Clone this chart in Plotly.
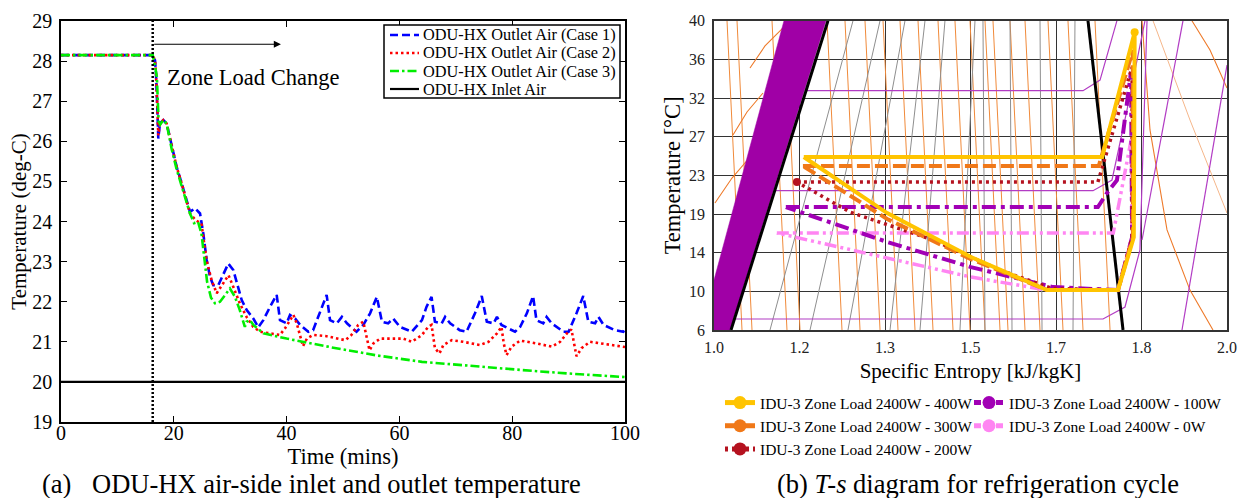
import numpy as np
import plotly.graph_objects as go

W, H = 1247, 498
SERIF = "Liberation Serif"

# ---------------- (a) ODU-HX air-side temperatures ----------------
LOAD_CHANGE_TIME = 16.26   # min
INLET_AIR_T = 20.0         # deg-C

CASE1 = [(0, 28.15), (16.26, 28.15), (16.67, 28.02), (16.84, 27.70), (17.07, 26.86), (17.25, 26.07),
         (17.55, 26.45), (18.14, 26.53), (18.74, 26.44), (19.63, 25.86), (20.51, 25.36), (21.40, 24.95),
         (22.29, 24.53), (22.87, 24.24), (23.76, 24.33), (24.65, 24.20), (25.23, 23.70), (25.83, 23.04),
         (26.42, 22.62), (27.00, 22.41), (27.89, 22.41), (28.78, 22.70), (29.66, 22.95), (30.55, 22.79),
         (31.44, 22.37), (32.04, 22.04), (32.93, 21.79), (34.10, 21.58), (34.98, 21.36), (35.87, 21.54),
         (37.06, 21.87), (38.24, 22.17), (38.83, 21.54), (40.0, 21.46), (40.6, 21.67), (41.5, 21.58),
         (42.4, 21.42), (43.85, 21.25), (44.7, 21.29), (45.9, 21.71), (47.1, 22.17), (47.7, 21.54),
         (48.9, 21.46), (49.8, 21.62), (50.7, 21.46), (52.4, 21.25), (53.6, 21.42), (54.8, 21.71),
         (56.0, 22.12), (56.9, 21.50), (58.0, 21.46), (58.9, 21.58), (60.1, 21.37), (62.2, 21.25),
         (64.0, 21.54), (64.8, 21.87), (65.7, 22.12), (66.3, 21.50), (67.5, 21.46), (68.1, 21.62),
         (69.0, 21.46), (70.7, 21.29), (71.9, 21.25), (73.4, 21.71), (74.6, 22.14), (75.5, 21.50),
         (76.7, 21.46), (77.3, 21.62), (78.1, 21.42), (80.5, 21.25), (81.4, 21.37), (82.6, 21.71),
         (83.7, 22.14), (84.3, 21.54), (85.5, 21.46), (86.1, 21.62), (87.0, 21.46), (89.1, 21.25),
         (90.0, 21.25), (91.4, 21.71), (92.6, 22.14), (93.5, 21.50), (94.7, 21.46), (95.3, 21.62),
         (96.2, 21.42), (98.2, 21.29), (99.7, 21.25), (100, 21.33)]

CASE2 = [(0, 28.15), (16.26, 28.15), (16.67, 28.02), (16.84, 27.70), (17.07, 26.90), (17.25, 26.15),
         (17.55, 26.45), (18.14, 26.53), (18.74, 26.44), (19.63, 25.86), (20.51, 25.36), (21.40, 24.95),
         (22.29, 24.53), (22.87, 24.20), (23.9, 24.03), (24.9, 23.95), (25.8, 23.04), (26.7, 22.54),
         (27.6, 22.21), (28.8, 22.46), (29.7, 22.66), (30.55, 22.37), (31.7, 21.96), (32.9, 21.62),
         (34.1, 21.37), (35.3, 21.25), (38.8, 21.17), (39.7, 21.33), (40.6, 21.54), (41.2, 21.67),
         (41.8, 21.46), (42.4, 21.12), (42.9, 20.89), (43.6, 21.08), (44.7, 21.17), (47.1, 21.14),
         (50.4, 21.04), (51.5, 21.17), (52.7, 21.42), (53.6, 21.50), (54.1, 21.21), (54.7, 20.79),
         (55.4, 20.96), (56.6, 21.08), (60.7, 21.08), (62.2, 21.00), (64.0, 21.17), (65.1, 21.37),
         (65.7, 21.42), (66.3, 20.84), (67.1, 20.71), (67.8, 20.92), (69.3, 21.04), (71.3, 21.00),
         (74.3, 20.92), (75.8, 21.00), (77.3, 21.21), (78.1, 21.37), (78.5, 20.96), (79.0, 20.67),
         (79.9, 20.88), (81.4, 21.03), (84.3, 20.96), (87.0, 20.88), (88.5, 21.00), (89.7, 21.21),
         (90.5, 21.31), (91.0, 20.92), (91.4, 20.64), (92.3, 20.84), (93.8, 21.00), (96.7, 20.94),
         (99.1, 20.88), (100, 20.87)]

CASE3 = [(0, 28.15), (16.26, 28.15), (16.7, 27.85), (17.0, 27.60), (17.3, 26.50), (17.6, 26.42),
         (18.14, 26.53), (18.74, 26.44), (19.63, 25.80), (20.51, 25.30), (21.40, 24.88), (22.29, 24.45),
         (22.87, 24.20), (23.6, 23.96), (24.3, 23.99), (24.9, 23.70), (25.5, 23.00), (25.9, 22.50),
         (26.6, 22.10), (27.3, 21.96), (28.2, 22.00), (29.96, 22.33), (30.85, 22.12), (31.7, 21.79),
         (32.6, 21.37), (32.9, 21.50), (33.5, 21.54), (34.1, 21.42), (35.9, 21.21), (40, 21.08),
         (48, 20.86), (56, 20.66), (64, 20.50), (74, 20.38), (84, 20.27), (92, 20.19), (100, 20.12)]

TIME_TICKS = [0, 20, 40, 60, 80, 100]
TEMP_TICKS_A = list(range(19, 30))

# ---------------- (b) T-s diagram ----------------
S_TICKS = [1.0, 1.2, 1.3, 1.5, 1.7, 1.8, 2.0]
T_TICKS = [6, 10, 14, 19, 23, 27, 32, 36, 40]

CYCLE_400W = [(1.205, 24.9), (1.754, 24.9), (1.792, 38.8), (1.791, 16.0), (1.7725, 10.13),
              (1.679, 10.13), (1.501, 13.55), (1.305, 19.1), (1.205, 24.9)]
CYCLE_300W = [(1.204, 23.97), (1.750, 23.97), (1.790, 36.97), (1.790, 16.0), (1.7725, 10.13),
              (1.679, 10.13), (1.501, 13.34), (1.305, 18.36), (1.204, 23.97)]
CYCLE_200W = [(1.194, 22.31), (1.749, 22.31), (1.789, 35.2), (1.789, 16.0), (1.7725, 10.13),
              (1.690, 10.3), (1.569, 12.2), (1.412, 15.64), (1.259, 19.2), (1.194, 22.31)]
CYCLE_100W = [(1.168, 19.72), (1.749, 19.72), (1.7596, 21.17), (1.7713, 22.5), (1.7877, 34.7),
              (1.789, 16.0), (1.7725, 10.13), (1.693, 10.44), (1.501, 12.51), (1.305, 15.38),
              (1.168, 19.72)]
CYCLE_0W = [(1.147, 16.55), (1.767, 16.55), (1.788, 26.7), (1.789, 16.0), (1.7725, 10.13),
            (1.679, 10.13), (1.501, 11.48), (1.305, 13.45), (1.147, 16.55)]

# saturation dome and property lines of the refrigerant chart
SAT_LIQUID = [(1.0398, 6), (1.2333, 40)]
SAT_VAPOUR = [(1.7784, 6), (1.7374, 40)]
LIQUID_BAND = [(1.0, 11.17), (1.0, 6), (1.0374, 6), (1.231, 40), (1.1637, 40), (1.0, 11.17)]
ISOBARS = [
    [(1.2088, 32.76), (1.7316, 32.76), (1.7515, 33.86), (1.7713, 40)],
    [(1.1427, 21.41), (1.7433, 21.41), (1.7655, 22.52), (1.783, 30.45), (1.8082, 40)],
    [(1.0, 7.14), (1.755, 7.14), (1.7807, 8.38), (1.7982, 14.35), (1.8129, 40)],
    [(1.8971, 40), (1.8012, 15.64)],
    [(2.0, 35.41), (1.8947, 6)],
]
ISO_ENTROPY_GREY = [(1.131, 1.2626), (1.2123, 1.2942), (1.2567, 1.3468), (1.3117, 1.3936),
                    (1.3819, 1.4403), (1.4754, 1.5105), (1.5339, 1.5292), (1.5971, 1.5924),
                    (1.6673, 1.6626), (1.7199, 1.7222)]
ORANGE_BOTTOM = [1.0655, 1.0889, 1.1707, 1.2006, 1.2497, 1.2708, 1.2942, 1.3304, 1.3702, 1.4123,
                 1.4591, 1.4988, 1.5339, 1.5690, 1.5877, 1.6275, 1.6626, 1.7082, 1.7316, 1.7632]
ORANGE_TOP = [1.0304, 1.0538, 1.1357, 1.1661, 1.2322, 1.2532, 1.2766, 1.2977, 1.3351, 1.3772,
              1.4240, 1.4637, 1.4988, 1.5339, 1.5526, 1.5924, 1.6275, 1.6813, 1.7140, 1.7456]
ORANGE_CURVES = [
    [(1.0023, 20.14), (1.0421, 22.72), (1.0842, 24.9)],
    [(1.0444, 27.22), (1.0772, 30.19), (1.1146, 32.52)],
    [(1.0842, 35.10), (1.1193, 37.39), (1.1614, 39.25)],
    [(1.8012, 40), (1.8199, 27.87), (1.8597, 16.94), (1.9134, 10.13), (1.9672, 6)],
    [(1.918, 40), (1.9602, 36.97), (2.0, 33.03)],
]
LIGHT_ORANGE_CURVES = [[(1.8269, 40), (1.9134, 29.16), (2.0, 19.1)]]

CYCLES = [
    ("IDU-3 Zone Load 2400W - 0W", CYCLE_0W, "#FF85F2", "12px,4px,3px,4px,3px,4px", 3.5),
    ("IDU-3 Zone Load 2400W - 100W", CYCLE_100W, "#A100B5", "14px,5px,4px,5px", 4),
    ("IDU-3 Zone Load 2400W - 200W", CYCLE_200W, "#B5121F", "3px,4px", 3.5),
    ("IDU-3 Zone Load 2400W - 300W", CYCLE_300W, "#F07818", "13px,5px", 4),
    ("IDU-3 Zone Load 2400W - 400W", CYCLE_400W, "#FFC400", "solid", 4),
]
# state points drawn as dots: (cycle name, index of the point in its array)
CYCLE_DOTS = [("IDU-3 Zone Load 2400W - 200W", 0), ("IDU-3 Zone Load 2400W - 400W", 2)]

# legend columns below panel (b)
LEGEND_COLUMNS = [
    ("legend2", ["IDU-3 Zone Load 2400W - 400W", "IDU-3 Zone Load 2400W - 300W",
                 "IDU-3 Zone Load 2400W - 200W"]),
    ("legend3", ["IDU-3 Zone Load 2400W - 100W", "IDU-3 Zone Load 2400W - 0W"]),
]
LEGEND_SYMBOL_DASH = {"IDU-3 Zone Load 2400W - 400W": "solid",
                      "IDU-3 Zone Load 2400W - 300W": "solid",
                      "IDU-3 Zone Load 2400W - 200W": "3px,4px",
                      "IDU-3 Zone Load 2400W - 100W": "7px,4px",
                      "IDU-3 Zone Load 2400W - 0W": "7px,4px"}


def s_pos(v):
    return np.interp(v, S_TICKS, np.arange(len(S_TICKS)))


def t_pos(v):
    return np.interp(v, T_TICKS, np.arange(len(T_TICKS)))


def ts_xy(points):
    pts = np.array(points, dtype=float)
    return s_pos(pts[:, 0]), t_pos(pts[:, 1])


def px(x):
    return x / W


def py(y):
    return 1 - y / H


fig = go.Figure()

# ----- panel (a) -----
SERIES_A = [
    ("ODU-HX Outlet Air (Case 1)", CASE1, "#0000FF", "8px,4px", 2.6),
    ("ODU-HX Outlet Air (Case 2)", CASE2, "#FF0000", "2.5px,3px", 2.6),
    ("ODU-HX Outlet Air (Case 3)", CASE3, "#00EE00", "9px,3px,2.5px,3px", 2.6),
    ("ODU-HX Inlet Air", [(0, INLET_AIR_T), (100, INLET_AIR_T)], "black", "solid", 2.2),
]
for name, data, color, dash, width in SERIES_A:
    d = np.array(data)
    fig.add_trace(go.Scatter(x=d[:, 0], y=d[:, 1], mode="lines", name=name, showlegend=False,
                             line=dict(color=color, width=width, dash=dash),
                             xaxis="x", yaxis="y"))

fig.add_shape(type="line", xref="x", yref="y", x0=LOAD_CHANGE_TIME, x1=LOAD_CHANGE_TIME,
              y0=19, y1=29, line=dict(color="black", width=2.5, dash="2px,2px"))
fig.add_annotation(x=39, y=28.42, ax=LOAD_CHANGE_TIME, ay=28.42, xref="x", yref="y",
                   axref="x", ayref="y", showarrow=True, arrowhead=2, arrowsize=1.3,
                   arrowwidth=1.1, arrowcolor="black", text="")
fig.add_annotation(x=18.4, y=27.58, xref="x", yref="y", text="Zone Load Change",
                   showarrow=False, xanchor="left", yanchor="middle",
                   font=dict(family=SERIF, size=22.5, color="black"))

# boxed key for panel (a)
fig.add_shape(type="rect", xref="paper", yref="paper", x0=px(384), x1=px(620), y0=py(98),
              y1=py(25), line=dict(color="black", width=1.5), fillcolor="white")
for i, (name, _, color, dash, width) in enumerate(SERIES_A):
    yk = py(35 + 18 * i)
    fig.add_shape(type="line", xref="paper", yref="paper", x0=px(390), x1=px(419),
                  y0=yk, y1=yk, line=dict(color=color, width=width, dash=dash))
    fig.add_annotation(x=px(421), y=yk, xref="paper", yref="paper", text=name,
                       showarrow=False, xanchor="left", yanchor="middle",
                       font=dict(family=SERIF, size=16.3, color="black"))

# ----- panel (b) -----
def add_line(points, color, width, dash="solid", fill=None):
    x, y = ts_xy(points)
    fig.add_trace(go.Scatter(x=x, y=y, mode="lines", showlegend=False, hoverinfo="skip",
                             line=dict(color=color, width=width, dash=dash),
                             fill=fill, fillcolor=color if fill else None,
                             xaxis="x2", yaxis="y2"))

for sb, st in zip(ORANGE_BOTTOM, ORANGE_TOP):
    add_line([(sb, 6), (st, 40)], "#F08A3A", 1.0)
for curve in ORANGE_CURVES:
    add_line(curve, "#EE7A2A", 1.1)
for curve in LIGHT_ORANGE_CURVES:
    add_line(curve, "#F5B68A", 1.0)
for sb, st in ISO_ENTROPY_GREY:
    add_line([(sb, 6), (st, 40)], "#8E8E8E", 1.0)
for iso in ISOBARS:
    add_line(iso, "#B23CC4", 1.2)
add_line(LIQUID_BAND, "#A000A6", 0.5, fill="toself")
add_line(SAT_LIQUID, "black", 3)
add_line(SAT_VAPOUR, "black", 3)

for name, pts, color, dash, width in CYCLES:
    add_line(pts, color, width, dash)

cycle_style = {c[0]: c for c in CYCLES}
for name, idx in CYCLE_DOTS:
    _, pts, color, _, _ = cycle_style[name]
    dx, dy = ts_xy([pts[idx]])
    fig.add_trace(go.Scatter(x=dx, y=dy, mode="markers", showlegend=False, hoverinfo="skip",
                             marker=dict(color=color, size=8), xaxis="x2", yaxis="y2"))

for legend_id, names in LEGEND_COLUMNS:
    for name in names:
        color = cycle_style[name][2]
        fig.add_trace(go.Scatter(x=[None], y=[None], mode="lines+markers", name=name,
                                 line=dict(color=color, width=5, dash=LEGEND_SYMBOL_DASH[name]),
                                 marker=dict(color=color, size=13),
                                 xaxis="x2", yaxis="y2", legend=legend_id))

axis_font = dict(family=SERIF, size=20, color="black")
legend_font = dict(family=SERIF, size=15.5, color="black")
fig.update_layout(
    width=W, height=H, margin=dict(l=0, r=0, t=0, b=0, autoexpand=False),
    paper_bgcolor="white", plot_bgcolor="white",
    font=dict(family=SERIF, color="black"),
    xaxis=dict(domain=[px(61), px(625)], range=[0, 100], tickvals=TIME_TICKS,
               ticks="inside", ticklen=6, tickwidth=1, tickcolor="black",
               showline=True, linecolor="black", linewidth=1.5, mirror="ticks",
               showgrid=False, zeroline=False, tickfont=axis_font, ticklabelstandoff=-8,
               title=dict(text="Time (mins)", font=dict(family=SERIF, size=22.5), standoff=0),
               anchor="y"),
    yaxis=dict(domain=[py(422), py(21)], range=[19, 29], tickvals=TEMP_TICKS_A,
               ticks="inside", ticklen=6, tickwidth=1, tickcolor="black",
               showline=True, linecolor="black", linewidth=1.5, mirror="ticks",
               showgrid=False, zeroline=False, tickfont=axis_font, ticklabelstandoff=3,
               title=dict(text="Temperature (deg-C)", font=dict(family=SERIF, size=21),
                          standoff=0), anchor="x"),
    xaxis2=dict(domain=[px(714), px(1227)], range=[0, len(S_TICKS) - 1],
                tickvals=list(range(len(S_TICKS))), ticktext=[f"{v:.1f}" for v in S_TICKS],
                ticks="", showline=True, linecolor="#333333", linewidth=1.5, mirror=True,
                showgrid=True, gridcolor="#333333", gridwidth=1.4, zeroline=False,
                tickfont=dict(family=SERIF, size=16, color="#222"), ticklabelstandoff=2,
                title=dict(text="Specific Entropy [kJ/kgK]", font=dict(family=SERIF, size=21),
                           standoff=8), anchor="y2"),
    yaxis2=dict(domain=[py(330), py(20.7)], range=[0, len(T_TICKS) - 1],
                tickvals=list(range(len(T_TICKS))), ticktext=[str(v) for v in T_TICKS],
                ticks="", showline=True, linecolor="#333333", linewidth=1.5, mirror=True,
                showgrid=True, gridcolor="#333333", gridwidth=1.4, zeroline=False,
                tickfont=dict(family=SERIF, size=16, color="#222"), ticklabelstandoff=4,
                title=dict(text="Temperature [°C]", font=dict(family=SERIF, size=22.5),
                           standoff=2), anchor="x2"),
    legend2=dict(x=px(720), y=py(386), xanchor="left", yanchor="top", font=legend_font,
                 itemwidth=30, bgcolor="rgba(0,0,0,0)", tracegroupgap=0),
    legend3=dict(x=px(969), y=py(386), xanchor="left", yanchor="top", font=legend_font,
                 itemwidth=30, bgcolor="rgba(0,0,0,0)", tracegroupgap=0),
    showlegend=True,
)

cap_font = dict(family=SERIF, size=26.5, color="black")
fig.add_annotation(x=px(40), y=py(484), xref="paper", yref="paper", xanchor="left",
                   yanchor="middle", showarrow=False, text="(a)", font=cap_font)
fig.add_annotation(x=px(90), y=py(484), xref="paper", yref="paper", xanchor="left",
                   yanchor="middle", showarrow=False,
                   text="ODU-HX air-side inlet and outlet temperature", font=cap_font)
fig.add_annotation(x=px(775), y=py(484), xref="paper", yref="paper", xanchor="left",
                   yanchor="middle", showarrow=False,
                   text="(b) <i>T-s</i> diagram for refrigeration cycle", font=cap_font)

fig.write_html("out.html")
